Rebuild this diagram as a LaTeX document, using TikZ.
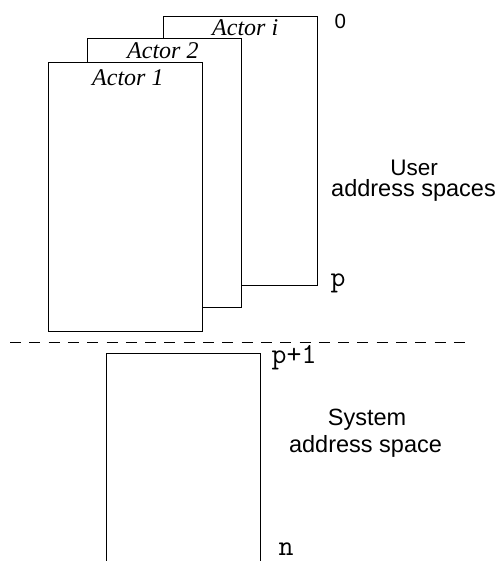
\documentclass[tikz,border=0pt]{standalone}
\usepackage{fontspec}
\setmainfont{Liberation Serif}
\setsansfont{Liberation Sans}
\begin{document}
\begin{tikzpicture}[x=1pt,y=-1pt,
  spacebox/.style={draw=black,fill=white,line width=0.9pt,inner sep=0pt,
    anchor=north west,minimum width=154pt},
  actorlabel/.style={inner sep=0pt,anchor=base west,
    font=\fontsize{24}{26}\selectfont\itshape},
  addr/.style={inner sep=0pt,anchor=base west,font=\fontsize{29}{31}\selectfont\ttfamily},
  zero/.style={inner sep=0pt,anchor=base west,font=\fontsize{20.5}{22}\selectfont\sffamily},
  caption/.style={inner sep=0pt,anchor=base,font=\fontsize{23.5}{25}\selectfont\sffamily}]
\useasboundingbox (0,0) rectangle (498,561);

% stacked user address spaces, back to front
\node[spacebox,minimum height=269pt] (ai) at (163,16) {};
\node[actorlabel] (lai) at (212,35.7) {Actor i};
\node[spacebox,minimum height=268.5pt] (a2) at (87,38.5) {};
\node[actorlabel] (la2) at (127,59) {Actor 2};
\node[spacebox,minimum height=269pt] (a1) at (48,62) {};
\node[actorlabel] (la1) at (92,85.7) {Actor 1};

% boundary between user and system space
\coordinate (sepL) at (10,342);
\coordinate (sepR) at (472,342);
\draw[line width=0.9pt,dash pattern=on 11pt off 8.3pt] (sepL) -- (sepR);

% system address space, open at the bottom
\coordinate (sysBL) at (106,565);
\coordinate (sysTL) at (106,353);
\coordinate (sysTR) at (260,353);
\coordinate (sysBR) at (260,565);
\draw[line width=0.9pt] (sysBL) -- (sysTL) -- (sysTR) -- (sysBR);

% address marks
\node[zero] (m0) at (334.5,29) {0};
\node[addr] (mp) at (330.5,286) {p};
\node[addr] (mp1) at (271.5,363) {p+1};
\node[addr] (mn) at (278.5,555.5) {n};

% region captions
\node[caption,font=\fontsize{22.5}{24}\selectfont\sffamily] (u1) at (414,175.5) {User};
\node[caption] (u2) at (413.5,196.5) {address spaces};
\node[caption] (s1) at (367,425) {System};
\node[caption] (s2) at (365.5,452) {address space};
\end{tikzpicture}
\end{document}
